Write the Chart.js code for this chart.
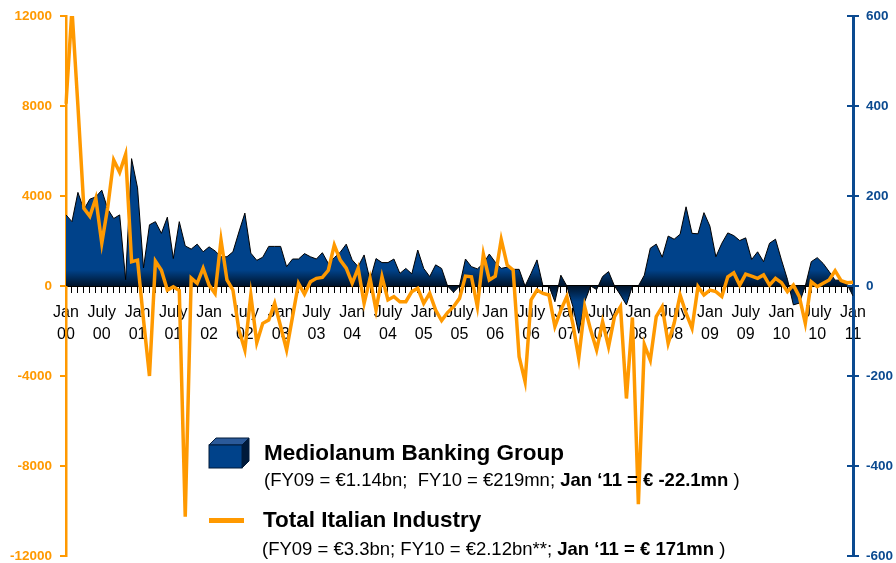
<!DOCTYPE html>
<html lang="en">
<head>
<meta charset="UTF-8">
<title>Mediolanum vs Total Italian Industry</title>
<script src="https://cdn.jsdelivr.net/npm/chart.js"></script>
<style>
  body { margin: 0; background: #fff; font-family: 'Liberation Sans', Arial, sans-serif; }
  #wrap { position: relative; width: 896px; height: 563px; }
  .leg { position: absolute; white-space: pre; color: #000; line-height: 1; }
  .title { font-weight: bold; font-size: 22.5px; }
  .sub { font-size: 18.5px; }
</style>
</head>
<body>
<div id="wrap">
  <canvas id="chart" width="896" height="563"></canvas>

  <!-- legende -->
  <svg style="position:absolute; left:205px; top:436px;" width="46" height="36">
    <polygon points="4,9 11,2 44,2 37,9" fill="#2b5a9a" stroke="#001a3a" stroke-width="1"/>
    <polygon points="37,9 44,2 44,25 37,32" fill="#001a3a" stroke="#001a3a" stroke-width="1"/>
    <rect x="4" y="9" width="33" height="23" fill="#00428a" stroke="#001a3a" stroke-width="1"/>
  </svg>
  <div class="leg title" style="left:264px; top:442px;">Mediolanum Banking Group</div>
  <div class="leg sub" style="left:264px; top:471px;">(FY09 = €1.14bn;  FY10 = €219mn; <b>Jan ‘11 = € -22.1mn</b> )</div>

  <div style="position:absolute; left:209px; top:518px; width:35px; height:5px; background:#ff9900;"></div>
  <div class="leg title" style="left:263px; top:509px;">Total Italian Industry</div>
  <div class="leg sub" style="left:262px; top:540px;">(FY09 = €3.3bn; FY10 = €2.12bn**; <b>Jan ‘11 = € 171mn</b> )</div>
</div>

<script>
// Axe des x : mois de Jan 00 a Jan 11
const years = ['00', '01', '02', '03', '04', '05', '06', '07', '08', '09', '10', '11'];
const monthNames = ['Jan', '', '', '', '', '', 'July', '', '', '', '', ''];

// Mediolanum Banking Group (axe droit, mn EUR)
const mediolanum = [
  158, 143, 208, 170, 193, 198, 213, 171, 150, 158, 14, 283,   // 2000
  218, 40, 136, 143, 117, 153, 61, 143, 89, 82, 93, 76,        // 2001
  87, 78, 65, 65, 76, 120, 162, 73, 57, 64, 88, 88,            // 2002
  88, 43, 60, 60, 72, 65, 60, 74, 50, 63, 75, 93,              // 2003
  58, 43, 69, 13, 61, 52, 52, 60, 28, 39, 27, 80,              // 2004
  39, 21, 47, 39, 0, -14, 0, 60, 43, 38, 50, 71,               // 2005
  53, 39, 42, 37, 37, 0, 28, 58, 0, 0, -35, 24,                // 2006
  0, -45, -105, -35, 0, -8, 21, 32, 0, -20, -42, 0,            // 2007
  0, 24, 84, 93, 64, 111, 104, 115, 176, 117, 116, 163,        // 2008
  133, 65, 95, 118, 112, 101, 107, 59, 76, 54, 95, 104,        // 2009
  58, 15, -42, -38, 0, 54, 63, 50, 32, 13, 13, 4,              // 2010
  -22.1                                                        // 2011
];

// Total Italian Industry (axe gauche, mn EUR)
const italianIndustry = [
  8100, 12300, 8000, 3450, 3100, 3900, 1900, 3500, 5600, 5050, 5850, 1080,        // 2000
  1150, -1500, -4000, 1100, 700, -180, -30, -200, -10250, 350, 120, 790,          // 2001
  40, -330, 2040, 270, -180, -1950, -2840, -400, -2520, -1660, -1510, -770,       // 2002
  -1800, -2840, -1360, 120, -360, 190, 340, 380, 700, 1820, 1150, 790,            // 2003
  120, 790, -770, 340, -1070, 410, -620, -470, -700, -700, -250, -100,            // 2004
  -770, -330, -1070, -1540, -1180, -920, -550, 440, 410, -920, 1420, 270,         // 2005
  440, 2070, 930, 710, -3140, -4250, -620, -180, -330, -400, -1800, -1070,        // 2006
  -470, -1660, -3210, -920, -1960, -2840, -1590, -2700, -1360, -920, -5000, -1400, // 2007
  -9700, -2600, -3300, -1360, -920, -2550, -1660, -400, -1210, -1880, -30, -400,  // 2008
  -180, -250, -470, 410, 590, 40, 530, 440, 340, 490, 40, 340,                    // 2009
  150, -250, 40, -470, -1660, 190, -30, 120, 270, 680, 240, 150,                  // 2010
  171                                                                             // 2011
];

const ORANGE = '#ff9900';
const BLUE = '#0b4a90';
const FONT = "'Liberation Sans', Arial, sans-serif";

// etiquettes des mois (deux lignes pour Jan / July)
const labels = [];
years.forEach((yy, yi) => {
  monthNames.forEach((m, mi) => {
    if (yi === years.length - 1 && mi > 0) return;
    labels.push(m ? [m, yy] : '');
  });
});

// degrade sombre pres de la ligne zero
function areaFill(ctx) {
  const chart = ctx.chart;
  const area = chart.chartArea;
  if (!area) return '#00428a';
  const y0 = chart.scales.y2.getPixelForValue(0);
  const h = area.bottom - area.top;
  const f = v => Math.min(1, Math.max(0, (v - area.top) / h));
  const g = chart.ctx.createLinearGradient(0, area.top, 0, area.bottom);
  g.addColorStop(0, '#00428a');
  g.addColorStop(f(y0 - 16), '#00428a');
  g.addColorStop(f(y0), '#001329');
  g.addColorStop(f(y0 + 16), '#00428a');
  g.addColorStop(1, '#00428a');
  return g;
}

// petits traits vers l'interieur sur l'axe droit
const innerTicks = {
  id: 'innerTicks',
  afterDraw(chart) {
    const s = chart.scales.y2;
    const c = chart.ctx;
    c.save();
    c.strokeStyle = BLUE;
    c.lineWidth = 2;
    s.ticks.forEach(t => {
      const y = s.getPixelForValue(t.value);
      c.beginPath();
      c.moveTo(s.left - 6, y);
      c.lineTo(s.left, y);
      c.stroke();
    });
    c.restore();
  }
};

// pas de padding vertical ajoute par les axes
const noVPad = s => { s.paddingTop = 0; s.paddingBottom = 0; };

new Chart(document.getElementById('chart'), {
  type: 'line',
  data: {
    labels: labels,
    datasets: [{
      label: 'Total Italian Industry',
      data: italianIndustry,
      yAxisID: 'y',
      borderColor: ORANGE,
      borderWidth: 3.5,
      pointRadius: 0,
      tension: 0,
      fill: false,
      order: 0
    }, {
      label: 'Mediolanum Banking Group',
      data: mediolanum,
      yAxisID: 'y2',
      borderColor: '#000',
      borderWidth: 1,
      backgroundColor: areaFill,
      pointRadius: 0,
      tension: 0,
      fill: 'origin',
      order: 1
    }]
  },
  options: {
    responsive: false,
    animation: false,
    layout: { padding: { top: 16, bottom: 7 } },
    plugins: {
      legend: { display: false },
      tooltip: { enabled: false }
    },
    scales: {
      x: {
        type: 'category',
        position: { y: 0 },
        offset: false,
        afterFit: noVPad,
        border: { display: true, color: '#000', width: 2 },
        grid: { drawOnChartArea: false, drawTicks: true, tickLength: 6, color: '#000', lineWidth: 1 },
        ticks: {
          autoSkip: false,
          maxRotation: 0,
          minRotation: 0,
          color: '#000',
          padding: 10,
          font: { family: FONT, size: 16, lineHeight: 1.35 }
        }
      },
      y: {
        position: 'left',
        min: -12000,
        max: 12000,
        afterFit: s => { s.width = 66; noVPad(s); },
        border: { display: true, color: ORANGE, width: 2.5 },
        grid: { drawOnChartArea: false, drawTicks: true, tickLength: 6, color: ORANGE, lineWidth: 2 },
        ticks: {
          stepSize: 4000,
          color: ORANGE,
          padding: 8,
          callback: v => String(v),
          font: { family: FONT, size: 13.5, weight: 'bold' }
        }
      },
      y2: {
        position: 'right',
        min: -600,
        max: 600,
        afterFit: s => { s.width = 43; noVPad(s); },
        border: { display: true, color: BLUE, width: 3 },
        grid: { drawOnChartArea: false, drawTicks: true, tickLength: 6, color: BLUE, lineWidth: 2 },
        ticks: {
          stepSize: 200,
          color: BLUE,
          padding: 7,
          callback: v => String(v),
          font: { family: FONT, size: 13.5, weight: 'bold' }
        }
      }
    }
  },
  plugins: [innerTicks]
});
</script>
</body>
</html>
